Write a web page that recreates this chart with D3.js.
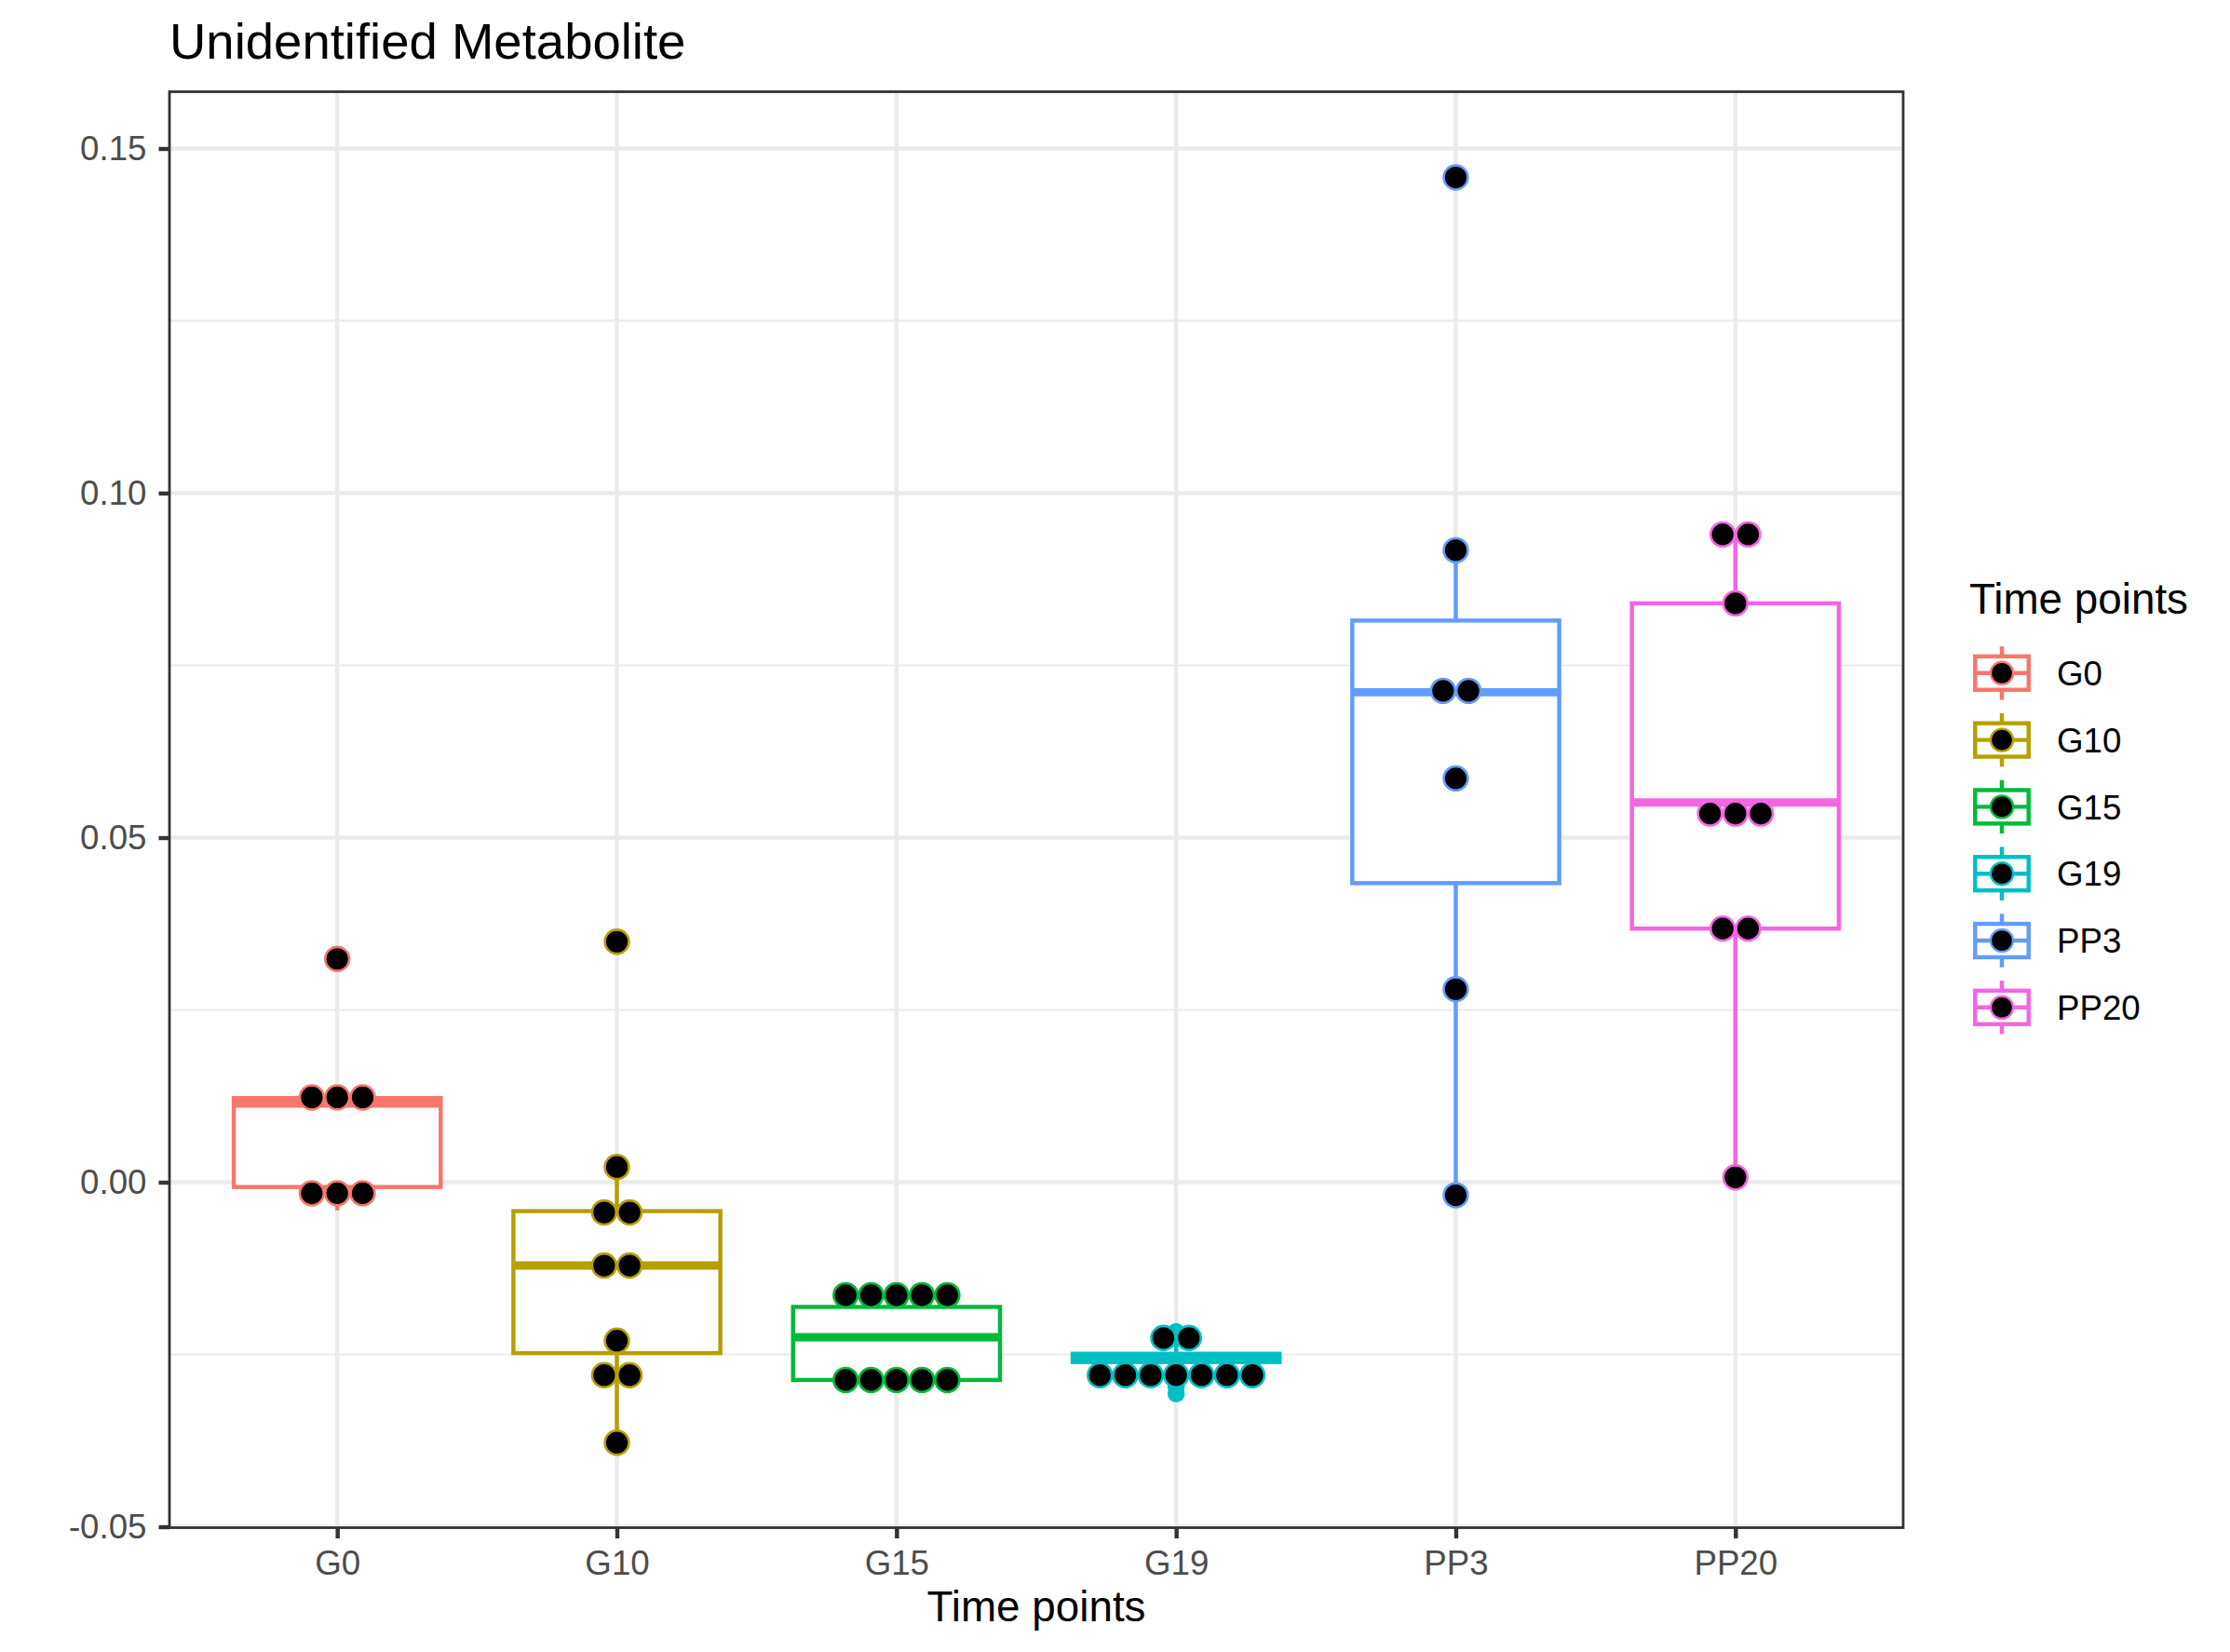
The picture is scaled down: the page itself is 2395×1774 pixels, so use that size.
<!DOCTYPE html>
<html>
<head>
<meta charset="utf-8">
<script src="https://cdn.jsdelivr.net/npm/d3@7"></script>
<style>
  body { margin: 0; background: #ffffff; }
  text { font-family: "Liberation Sans", Arial, Helvetica, sans-serif; }
</style>
</head>
<body>
<svg id="chart" width="2395" height="1774"></svg>
<script>
// ---------------- DATA ----------------
const categories = ["G0", "G10", "G15", "G19", "PP3", "PP20"];
const groupColors = ["#F8766D", "#B79F00", "#00BA38", "#00BFC4", "#619CFF", "#F564E3"];

// box statistics (as drawn)
const whiskerLow  = [-0.0041, -0.0378, -0.0299, -0.0281, -0.0019, 0.0007];
const q1          = [-0.0007, -0.0248, -0.0287, -0.0261,  0.0434, 0.0368];
const median      = [ 0.0114, -0.0121, -0.0225, -0.0255,  0.0711, 0.0551];
const q3          = [ 0.0122, -0.0042, -0.0181, -0.0249,  0.0815, 0.0840];
const whiskerHigh = [ 0.0122,  0.0022, -0.0165, -0.0222,  0.0917, 0.0940];
const outliers    = [[0.0324], [0.0349], [], [-0.0217, -0.0297, -0.0307], [0.1458], []];

// dot plot values (binned dot centres)
const dotsG0   = [0.0324, 0.0123, 0.0123, 0.0123, -0.0016, -0.0016, -0.0016];
const dotsG10  = [0.0349, 0.0022, -0.0044, -0.0044, -0.0121, -0.0121, -0.0230, -0.0280, -0.0280, -0.0378];
const dotsG15  = [-0.0164, -0.0164, -0.0164, -0.0164, -0.0164, -0.0287, -0.0287, -0.0287, -0.0287, -0.0287];
const dotsG19  = [-0.0226, -0.0226, -0.0280, -0.0280, -0.0280, -0.0280, -0.0280, -0.0280, -0.0280];
const dotsPP3  = [0.1458, 0.0917, 0.0713, 0.0713, 0.0586, 0.0280, -0.0019];
const dotsPP20 = [0.0940, 0.0940, 0.0840, 0.0535, 0.0535, 0.0535, 0.0368, 0.0368, 0.0007];
const dotValues = [dotsG0, dotsG10, dotsG15, dotsG19, dotsPP3, dotsPP20];

const yTicks = [0.15, 0.10, 0.05, 0.00, -0.05];
const yTickLabels = ["0.15", "0.10", "0.05", "0.00", "-0.05"];
const yMinorTicks = [0.125, 0.075, 0.025, -0.025];
const yDomain = [-0.050135, 0.15824];

const titleText = "Unidentified Metabolite";
const xTitleText = "Time points";
const legendTitleText = "Time points";

// ---------------- LAYOUT / STYLE ----------------
const panel = { left: 182, right: 2044, top: 98.5, bottom: 1640.5 };
const LW = 4.44;          // base line width
const dotR = 12.9, dotStroke = 2.6, dotStep = 27.3;
const boxWidthFrac = 0.74;
const fontFamily = '"Liberation Sans", Arial, Helvetica, sans-serif';

const svg = d3.select("#chart");

const x = d3.scalePoint().domain(categories).range([panel.left, panel.right]).padding(0.6);
const y = d3.scaleLinear().domain(yDomain).range([panel.bottom, panel.top]);
const step = x.step();
const colorScale = d3.scaleOrdinal().domain(categories).range(groupColors);

svg.append("rect").attr("width", 2395).attr("height", 1774).attr("fill", "#ffffff");

svg.append("defs").append("clipPath").attr("id", "panelClip")
  .append("rect").attr("x", panel.left).attr("y", panel.top)
  .attr("width", panel.right - panel.left).attr("height", panel.bottom - panel.top);

const plot = svg.append("g").attr("clip-path", "url(#panelClip)");

// grid
plot.append("g").selectAll("line").data(yMinorTicks).join("line")
  .attr("x1", panel.left).attr("x2", panel.right)
  .attr("y1", d => y(d)).attr("y2", d => y(d))
  .attr("stroke", "#EBEBEB").attr("stroke-width", LW / 2);
plot.append("g").selectAll("line").data(yTicks).join("line")
  .attr("x1", panel.left).attr("x2", panel.right)
  .attr("y1", d => y(d)).attr("y2", d => y(d))
  .attr("stroke", "#EBEBEB").attr("stroke-width", LW);
plot.append("g").selectAll("line").data(categories).join("line")
  .attr("x1", d => x(d)).attr("x2", d => x(d))
  .attr("y1", panel.top).attr("y2", panel.bottom)
  .attr("stroke", "#EBEBEB").attr("stroke-width", LW);

// boxplots
const boxData = categories.map((c, i) => ({
  cat: c, color: groupColors[i],
  lo: whiskerLow[i], q1: q1[i], med: median[i], q3: q3[i], hi: whiskerHigh[i],
  out: outliers[i]
}));
const bw = step * boxWidthFrac;
const boxes = plot.append("g").selectAll("g").data(boxData).join("g");
boxes.append("line")
  .attr("x1", d => x(d.cat)).attr("x2", d => x(d.cat))
  .attr("y1", d => y(d.q3)).attr("y2", d => y(d.hi))
  .attr("stroke", d => d.color).attr("stroke-width", LW);
boxes.append("line")
  .attr("x1", d => x(d.cat)).attr("x2", d => x(d.cat))
  .attr("y1", d => y(d.q1)).attr("y2", d => y(d.lo))
  .attr("stroke", d => d.color).attr("stroke-width", LW);
boxes.append("rect")
  .attr("x", d => x(d.cat) - bw / 2).attr("width", bw)
  .attr("y", d => y(d.q3)).attr("height", d => Math.max(0.1, y(d.q1) - y(d.q3)))
  .attr("fill", "#ffffff").attr("stroke", d => d.color).attr("stroke-width", LW)
  .attr("stroke-linejoin", "miter");
boxes.append("line")
  .attr("x1", d => x(d.cat) - bw / 2).attr("x2", d => x(d.cat) + bw / 2)
  .attr("y1", d => y(d.med)).attr("y2", d => y(d.med))
  .attr("stroke", d => d.color).attr("stroke-width", LW * 2);
boxes.selectAll("circle.out").data(d => d.out.map(v => ({ v, cat: d.cat, color: d.color }))).join("circle")
  .attr("class", "out")
  .attr("cx", d => x(d.cat)).attr("cy", d => y(d.v)).attr("r", 9.3)
  .attr("fill", d => d.color);

// dot plots (stacked horizontally, centred)
const dotRecords = [];
categories.forEach((c, i) => {
  const groups = d3.group(dotValues[i], v => v);
  for (const [v, arr] of groups) {
    const n = arr.length;
    arr.forEach((_, j) => dotRecords.push({ cat: c, v, off: (j - (n - 1) / 2) * dotStep, color: groupColors[i] }));
  }
});
plot.append("g").selectAll("circle").data(dotRecords).join("circle")
  .attr("cx", d => x(d.cat) + d.off).attr("cy", d => y(d.v)).attr("r", dotR)
  .attr("fill", "#000000").attr("stroke", d => d.color).attr("stroke-width", dotStroke);

// panel border
svg.append("rect")
  .attr("x", panel.left).attr("y", panel.top)
  .attr("width", panel.right - panel.left).attr("height", panel.bottom - panel.top)
  .attr("fill", "none").attr("stroke", "#333333").attr("stroke-width", 2.8);

// axes
const yAxis = d3.axisLeft(y).tickValues(yTicks)
  .tickFormat((d, i) => yTickLabels[i]).tickSize(11.5).tickPadding(13);
const gy = svg.append("g").attr("transform", `translate(${panel.left},0)`).call(yAxis);
gy.select(".domain").remove();
gy.selectAll(".tick line").attr("stroke", "#333333").attr("stroke-width", LW);
gy.selectAll(".tick text").attr("fill", "#4D4D4D").attr("font-size", 36.7).attr("font-family", fontFamily);

const xAxis = d3.axisBottom(x).tickSize(11.5).tickPadding(13);
const gx = svg.append("g").attr("transform", `translate(0,${panel.bottom})`).call(xAxis);
gx.select(".domain").remove();
gx.selectAll(".tick line").attr("stroke", "#333333").attr("stroke-width", LW);
gx.selectAll(".tick text").attr("fill", "#4D4D4D").attr("font-size", 36.7).attr("font-family", fontFamily);

// titles
svg.append("text").attr("x", panel.left).attr("y", 63)
  .attr("font-size", 54.5).attr("fill", "#000").text(titleText);
svg.append("text").attr("x", (panel.left + panel.right) / 2).attr("y", 1741)
  .attr("text-anchor", "middle").attr("font-size", 45.8).attr("fill", "#000").text(xTitleText);

// legend
const legend = svg.append("g");
legend.append("text").attr("x", 2115).attr("y", 659)
  .attr("font-size", 45.8).attr("fill", "#000").text(legendTitleText);
const keySize = 71.8, keyX = 2150, keyY0 = 722.8;
const keys = legend.selectAll("g.key").data(categories).join("g")
  .attr("class", "key")
  .attr("transform", (d, i) => `translate(${keyX},${keyY0 + i * keySize})`);
keys.append("line").attr("x1", 0).attr("x2", 0).attr("y1", -keySize * 0.4).attr("y2", keySize * 0.4)
  .attr("stroke", d => colorScale(d)).attr("stroke-width", LW);
keys.append("rect").attr("x", -keySize * 0.4).attr("y", -keySize * 0.25)
  .attr("width", keySize * 0.8).attr("height", keySize * 0.5)
  .attr("fill", "#ffffff").attr("stroke", d => colorScale(d)).attr("stroke-width", LW);
keys.append("line").attr("x1", -keySize * 0.4).attr("x2", keySize * 0.4).attr("y1", 0).attr("y2", 0)
  .attr("stroke", d => colorScale(d)).attr("stroke-width", LW);
keys.append("circle").attr("r", 12).attr("fill", "#000")
  .attr("stroke", d => colorScale(d)).attr("stroke-width", 2.4);
keys.append("text").attr("x", 2209 - keyX).attr("y", 13.1)
  .attr("font-size", 36.7).attr("fill", "#000").text(d => d);
</script>
</body>
</html>
